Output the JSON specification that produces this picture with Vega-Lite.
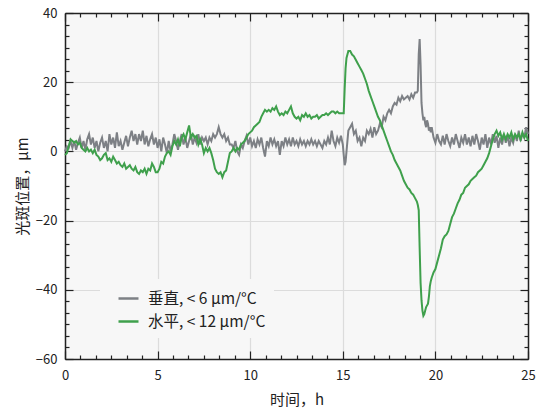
{
"$schema":"https://vega.github.io/schema/vega-lite/v6.json",
"width":463,"height":346,
"autosize":{"type":"none"},
"padding":{"left":65,"top":13,"right":15,"bottom":52},
"background":"#ffffff",
"config":{"view":{"fill":"#f7f7f7","stroke":null},"font":"Noto Sans CJK SC"},
"data":{"values":[
{"t":0,"a":0,"b":-1},{"t":0.1,"a":1.5,"b":-0.5},{"t":0.2,"a":1,"b":1.5},{"t":0.3,"a":3,"b":3.5},{"t":0.4,"a":1,"b":3},{"t":0.5,"a":3,"b":2.5},{"t":0.6,"a":0.5,"b":3},{"t":0.7,"a":2.5,"b":2},{"t":0.8,"a":4,"b":2.5},{"t":0.9,"a":1,"b":1},
{"t":1.0,"a":3,"b":0.5},{"t":1.1,"a":0.5,"b":0},{"t":1.2,"a":3.5,"b":1},{"t":1.3,"a":5,"b":0},{"t":1.4,"a":2,"b":0.5},{"t":1.5,"a":4,"b":-0.5},{"t":1.6,"a":1,"b":0.5},{"t":1.7,"a":3,"b":-1},{"t":1.8,"a":0,"b":-1.5},{"t":1.9,"a":2.5,"b":-2.5},
{"t":2.0,"a":4,"b":-2},{"t":2.1,"a":1,"b":-1},{"t":2.2,"a":3,"b":-0.5},{"t":2.3,"a":0,"b":-2.5},{"t":2.4,"a":5,"b":-2},{"t":2.5,"a":2,"b":-3},{"t":2.6,"a":4,"b":-1.5},{"t":2.7,"a":1,"b":-2.5},{"t":2.8,"a":5.5,"b":-3.5},{"t":2.9,"a":1.5,"b":-3},
{"t":3.0,"a":3,"b":-4},{"t":3.1,"a":0.5,"b":-4.5},{"t":3.2,"a":2.5,"b":-3.5},{"t":3.3,"a":4.5,"b":-5},{"t":3.4,"a":1.5,"b":-4.5},{"t":3.5,"a":4,"b":-4},{"t":3.6,"a":6,"b":-5},{"t":3.7,"a":3,"b":-5.5},{"t":3.8,"a":5,"b":-4.5},{"t":3.9,"a":2,"b":-6},
{"t":4.0,"a":5,"b":-6.5},{"t":4.1,"a":3,"b":-5.5},{"t":4.2,"a":6,"b":-6},{"t":4.3,"a":2,"b":-5},{"t":4.4,"a":4.5,"b":-6.5},{"t":4.5,"a":1.5,"b":-5},{"t":4.6,"a":3.5,"b":-5.5},{"t":4.7,"a":5,"b":-3.5},{"t":4.8,"a":2,"b":-4.5},{"t":4.9,"a":4,"b":-6},
{"t":5.0,"a":1,"b":-6},{"t":5.1,"a":3.5,"b":-5},{"t":5.2,"a":0,"b":-3},{"t":5.3,"a":4,"b":-3.5},{"t":5.4,"a":2,"b":-1.5},{"t":5.5,"a":-0.5,"b":-0.5},{"t":5.6,"a":3,"b":0},{"t":5.7,"a":0,"b":-1},{"t":5.8,"a":2,"b":1.5},{"t":5.9,"a":5,"b":3},
{"t":6.0,"a":3,"b":2},{"t":6.1,"a":0.5,"b":3.5},{"t":6.2,"a":3,"b":1.5},{"t":6.3,"a":5,"b":4},{"t":6.4,"a":2,"b":5},{"t":6.5,"a":4,"b":3.5},{"t":6.6,"a":1,"b":5.5},{"t":6.7,"a":3,"b":7.5},{"t":6.8,"a":5,"b":4},{"t":6.9,"a":2,"b":5},
{"t":7.0,"a":4,"b":4},{"t":7.1,"a":2.5,"b":4.5},{"t":7.2,"a":5,"b":2},{"t":7.3,"a":2,"b":3.5},{"t":7.4,"a":4,"b":2},{"t":7.5,"a":3,"b":-0.5},{"t":7.6,"a":4,"b":1},{"t":7.7,"a":2,"b":0},{"t":7.8,"a":4,"b":1},{"t":7.9,"a":3,"b":-0.5},
{"t":8.0,"a":5,"b":-2.5},{"t":8.1,"a":4,"b":-5},{"t":8.2,"a":5,"b":-6},{"t":8.3,"a":7,"b":-6.5},{"t":8.4,"a":5,"b":-6},{"t":8.5,"a":4,"b":-7.5},{"t":8.6,"a":5,"b":-6},{"t":8.7,"a":3,"b":-5.5},{"t":8.8,"a":4,"b":-3},{"t":8.9,"a":2,"b":-0.5},
{"t":9.0,"a":2,"b":0},{"t":9.1,"a":1,"b":1},{"t":9.2,"a":3,"b":0},{"t":9.3,"a":0,"b":1},{"t":9.4,"a":-1,"b":0.5},{"t":9.5,"a":2,"b":2},{"t":9.6,"a":1,"b":2.5},{"t":9.7,"a":3,"b":3},{"t":9.8,"a":4.5,"b":4},{"t":9.9,"a":2,"b":5},
{"t":10.0,"a":4,"b":5.5},{"t":10.1,"a":1.5,"b":6},{"t":10.2,"a":3,"b":7},{"t":10.3,"a":1,"b":7.5},{"t":10.4,"a":3.5,"b":8},{"t":10.5,"a":2,"b":8.5},{"t":10.6,"a":4,"b":10},{"t":10.7,"a":1,"b":11},{"t":10.8,"a":-1.5,"b":12},{"t":10.9,"a":3,"b":11.5},
{"t":11.0,"a":1.5,"b":12},{"t":11.1,"a":4,"b":11.5},{"t":11.2,"a":2,"b":12.5},{"t":11.3,"a":3.5,"b":12},{"t":11.4,"a":1.5,"b":13},{"t":11.5,"a":3,"b":11.5},{"t":11.6,"a":-1,"b":10.5},{"t":11.7,"a":3,"b":11},{"t":11.8,"a":1.5,"b":10.5},{"t":11.9,"a":4,"b":11.5},
{"t":12.0,"a":2,"b":11},{"t":12.1,"a":3.5,"b":12},{"t":12.2,"a":1.5,"b":13},{"t":12.3,"a":4,"b":11},{"t":12.4,"a":2,"b":10},{"t":12.5,"a":3,"b":9.5},{"t":12.6,"a":1.5,"b":10},{"t":12.7,"a":3.5,"b":9},{"t":12.8,"a":2,"b":10.5},{"t":12.9,"a":3,"b":10},
{"t":13.0,"a":1.5,"b":11},{"t":13.1,"a":3,"b":10},{"t":13.2,"a":2,"b":10.5},{"t":13.3,"a":3.5,"b":9.5},{"t":13.4,"a":2,"b":10},{"t":13.5,"a":3,"b":10},{"t":13.6,"a":1.5,"b":10.5},{"t":13.7,"a":3,"b":9.5},{"t":13.8,"a":2,"b":10},{"t":13.9,"a":1,"b":10.5},
{"t":14.0,"a":3,"b":10.5},{"t":14.1,"a":2,"b":11},{"t":14.2,"a":4,"b":10.5},{"t":14.3,"a":2,"b":11},{"t":14.4,"a":6,"b":11.5},{"t":14.5,"a":3,"b":11.5},{"t":14.6,"a":1.5,"b":11},{"t":14.7,"a":4,"b":11.5},{"t":14.8,"a":2.5,"b":11},{"t":14.9,"a":4.5,"b":11},
{"t":15.0,"a":2,"b":11},{"t":15.05,"a":-1,"b":11},{"t":15.1,"a":-4,"b":18},{"t":15.15,"a":-3,"b":24},{"t":15.2,"a":0,"b":27},{"t":15.3,"a":6,"b":29},{"t":15.4,"a":7,"b":29},{"t":15.5,"a":8,"b":28},{"t":15.6,"a":5,"b":27.5},{"t":15.7,"a":6,"b":26.5},{"t":15.8,"a":3,"b":25.5},{"t":15.9,"a":4,"b":24.5},
{"t":16.0,"a":1.5,"b":23.5},{"t":16.1,"a":4,"b":22.5},{"t":16.2,"a":3,"b":21},{"t":16.3,"a":6,"b":19.5},{"t":16.4,"a":5,"b":17.5},{"t":16.5,"a":6.5,"b":16},{"t":16.6,"a":4,"b":14.5},{"t":16.7,"a":7,"b":13},{"t":16.8,"a":5,"b":11.5},{"t":16.9,"a":6,"b":10},
{"t":17.0,"a":8,"b":9},{"t":17.1,"a":7,"b":7.5},{"t":17.2,"a":10,"b":6},{"t":17.3,"a":9,"b":4.5},{"t":17.4,"a":11,"b":3},{"t":17.5,"a":12,"b":1.5},{"t":17.6,"a":11,"b":0},{"t":17.7,"a":13,"b":-1},{"t":17.8,"a":14,"b":-2.5},{"t":17.9,"a":13.5,"b":-3.5},
{"t":18.0,"a":15.5,"b":-4.5},{"t":18.1,"a":14.5,"b":-5.5},{"t":18.2,"a":16,"b":-7},{"t":18.3,"a":15,"b":-8.5},{"t":18.4,"a":15.5,"b":-9.5},{"t":18.5,"a":16,"b":-10.5},{"t":18.6,"a":15,"b":-11},{"t":18.7,"a":16.5,"b":-12},{"t":18.8,"a":15.5,"b":-12.5},{"t":18.9,"a":17,"b":-13.5},
{"t":19.0,"a":17,"b":-14.5},{"t":19.05,"a":17.5,"b":-15.5},{"t":19.1,"a":28,"b":-17},{"t":19.15,"a":32.5,"b":-28},{"t":19.2,"a":25,"b":-38},{"t":19.25,"a":14,"b":-43},{"t":19.3,"a":11,"b":-46},{"t":19.35,"a":9,"b":-47.5},{"t":19.4,"a":10,"b":-47},{"t":19.45,"a":8,"b":-46},
{"t":19.5,"a":7,"b":-45},{"t":19.55,"a":9,"b":-44.5},{"t":19.6,"a":8,"b":-44},{"t":19.65,"a":6,"b":-42},{"t":19.7,"a":7,"b":-39},{"t":19.75,"a":5.5,"b":-37.5},{"t":19.8,"a":7,"b":-36.5},{"t":19.9,"a":4,"b":-35},
{"t":20.0,"a":2.5,"b":-34},{"t":20.1,"a":5,"b":-32},{"t":20.2,"a":3,"b":-30},{"t":20.3,"a":2,"b":-28},{"t":20.4,"a":4.5,"b":-25.5},{"t":20.5,"a":2,"b":-24.5},{"t":20.6,"a":5,"b":-24},{"t":20.7,"a":3,"b":-23},{"t":20.8,"a":1.5,"b":-21},{"t":20.9,"a":4,"b":-19},
{"t":21.0,"a":2,"b":-18},{"t":21.1,"a":5,"b":-16.5},{"t":21.2,"a":3,"b":-15},{"t":21.3,"a":1,"b":-14},{"t":21.4,"a":4,"b":-12.5},{"t":21.5,"a":2.5,"b":-12},{"t":21.6,"a":5,"b":-10.5},{"t":21.7,"a":2,"b":-10},{"t":21.8,"a":4,"b":-9.5},{"t":21.9,"a":1.5,"b":-8.5},
{"t":22.0,"a":4.5,"b":-8},{"t":22.1,"a":2,"b":-7.5},{"t":22.2,"a":5,"b":-7},{"t":22.3,"a":3,"b":-6},{"t":22.4,"a":0.5,"b":-5.5},{"t":22.5,"a":4,"b":-5},{"t":22.6,"a":2,"b":-4},{"t":22.7,"a":5,"b":-3},{"t":22.8,"a":1,"b":-2},{"t":22.9,"a":4,"b":-0.5},
{"t":23.0,"a":2,"b":1.5},{"t":23.1,"a":5,"b":3.5},{"t":23.2,"a":2.5,"b":5},{"t":23.3,"a":4.5,"b":6},{"t":23.4,"a":1,"b":4.5},{"t":23.5,"a":4,"b":5.5},{"t":23.6,"a":2,"b":3.5},{"t":23.7,"a":5,"b":5},{"t":23.8,"a":2.5,"b":3.5},{"t":23.9,"a":4.5,"b":5},
{"t":24.0,"a":1.5,"b":4},{"t":24.1,"a":4,"b":5.5},{"t":24.2,"a":2.5,"b":3.5},{"t":24.3,"a":5,"b":5},{"t":24.4,"a":3,"b":4},{"t":24.5,"a":6,"b":5},{"t":24.6,"a":3,"b":3.5},{"t":24.7,"a":5,"b":5.5},{"t":24.8,"a":4,"b":4},{"t":24.9,"a":7,"b":5},
{"t":25.0,"a":5,"b":3}
]},
"transform":[{"fold":["a","b"],"as":["k","v"]}],
"layer":[
{"mark":{"type":"line","strokeWidth":2,"interpolate":"linear"},
"encoding":{
"x":{"field":"t","type":"quantitative","scale":{"domain":[0,25],"nice":false,"zero":false},
"axis":{"orient":"bottom","title":"时间，h","values":[0,0.8333,1.6667,2.5,3.3333,4.1667,5,5.8333,6.6667,7.5,8.3333,9.1667,10,10.8333,11.6667,12.5,13.3333,14.1667,15,15.8333,16.6667,17.5,18.3333,19.1667,20,20.8333,21.6667,22.5,23.3333,24.1667,25],
"labelExpr":"abs(datum.value/5-round(datum.value/5))<0.001 ? format(datum.value,'d') : ''",
"tickSize":{"condition":{"test":"abs(datum.value/5-round(datum.value/5))<0.001","value":-8},"value":-4},
"gridOpacity":{"condition":{"test":"abs(datum.value/5-round(datum.value/5))<0.001","value":1},"value":0},
"grid":true,"gridColor":"#dcdcdc","gridWidth":1.2,
"domainColor":"#222","domainWidth":1.5,"tickColor":"#222","tickWidth":1.2,
"labelFont":"Noto Sans CJK SC","labelFontSize":13,"labelColor":"#222","labelPadding":18,"labelFlush":false,"labelOverlap":false,
"titleFont":"Noto Sans CJK SC","titleFontSize":15,"titleFontWeight":"normal","titleColor":"#222","titlePadding":6}},
"y":{"field":"v","type":"quantitative","scale":{"domain":[-60,40],"nice":false,"zero":false},
"axis":{"orient":"left","title":"光斑位置，μm","values":[-60,-56.6667,-53.3333,-50,-46.6667,-43.3333,-40,-36.6667,-33.3333,-30,-26.6667,-23.3333,-20,-16.6667,-13.3333,-10,-6.6667,-3.3333,0,3.3333,6.6667,10,13.3333,16.6667,20,23.3333,26.6667,30,33.3333,36.6667,40],
"labelExpr":"abs(datum.value/20-round(datum.value/20))<0.001 ? format(datum.value,'d') : ''",
"tickSize":{"condition":{"test":"abs(datum.value/20-round(datum.value/20))<0.001","value":-8},"value":-4},
"gridOpacity":{"condition":{"test":"abs(datum.value/20-round(datum.value/20))<0.001","value":1},"value":0},
"grid":true,"gridColor":"#dcdcdc","gridWidth":1.2,
"domainColor":"#222","domainWidth":1.5,"tickColor":"#222","tickWidth":1.2,
"labelFont":"Noto Sans CJK SC","labelFontSize":13,"labelColor":"#222","labelPadding":16,"labelFlush":false,"labelOverlap":false,
"titleFont":"Noto Sans CJK SC","titleFontSize":15,"titleFontWeight":"normal","titleColor":"#222","titlePadding":5}},
"color":{"field":"k","type":"nominal","scale":{"domain":["a","b"],"range":["#7d8085","#3fa04c"]},
"legend":{"orient":"none","legendX":35,"legendY":266,"title":null,"fillColor":"#f7f7f7","padding":8,
"symbolType":"stroke","symbolSize":400,"symbolStrokeWidth":2.5,"symbolOffset":9,"labelOffset":8,"rowPadding":3,
"labelFont":"Noto Sans CJK SC","labelFontSize":15.5,"labelColor":"#222",
"labelExpr":"datum.value == 'a' ? '垂直, < 6 μm/°C' : '水平, < 12 μm/°C'"}}
}},
{"mark":{"type":"line","opacity":0},
"encoding":{
"x":{"field":"t","type":"quantitative",
"axis":{"orient":"top","title":null,"labels":false,"grid":false,"values":[0,0.8333,1.6667,2.5,3.3333,4.1667,5,5.8333,6.6667,7.5,8.3333,9.1667,10,10.8333,11.6667,12.5,13.3333,14.1667,15,15.8333,16.6667,17.5,18.3333,19.1667,20,20.8333,21.6667,22.5,23.3333,24.1667,25],
"tickSize":{"condition":{"test":"abs(datum.value/5-round(datum.value/5))<0.001","value":-8},"value":-4},
"domainColor":"#222","domainWidth":1.5,"tickColor":"#222","tickWidth":1.2}},
"y":{"field":"v","type":"quantitative",
"axis":{"orient":"right","title":null,"labels":false,"grid":false,"values":[-60,-56.6667,-53.3333,-50,-46.6667,-43.3333,-40,-36.6667,-33.3333,-30,-26.6667,-23.3333,-20,-16.6667,-13.3333,-10,-6.6667,-3.3333,0,3.3333,6.6667,10,13.3333,16.6667,20,23.3333,26.6667,30,33.3333,36.6667,40],
"tickSize":{"condition":{"test":"abs(datum.value/20-round(datum.value/20))<0.001","value":-8},"value":-4},
"domainColor":"#222","domainWidth":1.5,"tickColor":"#222","tickWidth":1.2}},
"detail":{"field":"k"}
}}
],
"resolve":{"axis":{"x":"independent","y":"independent"}}
}
